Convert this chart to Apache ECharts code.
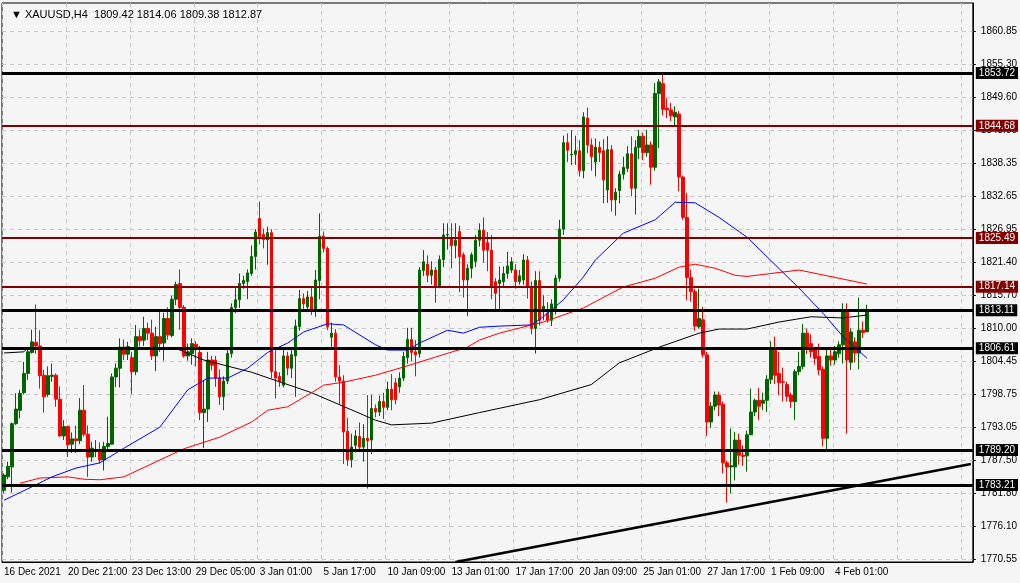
<!DOCTYPE html>
<html>
<head>
<meta charset="utf-8">
<script src="https://cdn.jsdelivr.net/npm/echarts@6/dist/echarts.min.js"></script>
<style>
  html, body { margin: 0; padding: 0; background: #f5f5f5; }
  #chart { width: 1020px; height: 583px; }
</style>
</head>
<body>
<div id="chart"></div>
<script>
var timeLabels = ['16 Dec 2021', '20 Dec 21:00', '23 Dec 13:00', '29 Dec 05:00', '3 Jan 01:00', '5 Jan 17:00',
  '10 Jan 09:00', '13 Jan 01:00', '17 Jan 17:00', '20 Jan 09:00', '25 Jan 01:00', '27 Jan 17:00', '1 Feb 09:00', '4 Feb 01:00'];
var priceTicks = [1770.55, 1776.10, 1781.80, 1787.50, 1793.05, 1798.75, 1804.45, 1810.00, 1815.70, 1821.40,
  1826.95, 1832.65, 1838.35, 1843.90, 1849.60, 1855.30, 1860.85];

// OHLC, one entry per H4 bar
var opens = [1782.3,1784.6,1786.3,1793.7,1796.0,1799.0,1802.3,1805.9,1807.6,1807.0,1802.0,1798.7,1801.8,1802.0,1797.9,1791.6,1793.2,1790.2,1791.1,1790.8,
  1796.0,1791.9,1788.0,1789.0,1789.2,1787.5,1789.8,1790.2,1801.7,1803.2,1806.8,1805.6,1805.0,1802.6,1808.6,1808.0,1810.0,1809.2,1805.3,1808.6,
  1807.5,1811.7,1808.8,1815.0,1817.7,1813.6,1805.3,1805.7,1807.3,1805.9,1795.6,1796.2,1804.6,1804.6,1801.5,1798.3,1801.0,1805.7,1813.6,1814.9,
  1817.7,1818.0,1819.4,1822.3,1828.8,1826.1,1825.2,1826.4,1802.6,1801.8,1800.3,1805.3,1803.2,1805.3,1810.3,1815.1,1813.7,1815.4,1812.9,1818.2,
  1825.8,1823.7,1808.5,1809.2,1801.7,1801.0,1792.4,1787.5,1790.0,1791.5,1789.7,1791.2,1790.9,1796.3,1795.7,1797.5,1796.5,1799.6,1800.7,1800.0,
  1801.5,1805.0,1808.1,1806.0,1805.7,1819.9,1821.0,1819.1,1820.0,1817.0,1821.8,1826.0,1825.5,1824.2,1826.6,1822.6,1818.3,1820.3,1821.5,1825.1,
  1826.8,1824.7,1823.4,1818.0,1817.7,1818.0,1819.4,1820.0,1820.0,1818.0,1818.3,1821.7,1817.2,1810.0,1818.2,1813.3,1812.6,1811.4,1813.4,1818.6,
  1827.0,1841.8,1839.7,1839.8,1840.4,1837.0,1846.0,1841.4,1838.5,1841.0,1840.4,1833.7,1840.6,1832.0,1833.6,1836.4,1837.4,1839.9,1834.0,1841.0,
  1842.9,1840.1,1841.4,1837.6,1850.2,1851.9,1847.7,1847.4,1846.2,1846.7,1835.9,1829.0,1818.7,1816.3,1810.3,1811.5,1805.5,1794.0,1796.7,1798.6,
  1797.0,1787.0,1786.3,1786.3,1790.9,1788.3,1788.2,1791.8,1795.7,1797.7,1797.2,1797.7,1801.3,1806.6,1802.3,1800.9,1800.4,1798.6,1797.5,1802.6,
  1803.5,1809.2,1807.4,1806.3,1805.2,1803.0,1791.2,1805.3,1804.6,1805.7,1807.2,1813.2,1804.2,1807.7,1805.8,1809.7,1809.42];
var closes = [1784.9,1786.4,1793.7,1796.2,1798.9,1802.3,1806.0,1807.7,1807.0,1801.9,1798.3,1801.9,1802.0,1797.9,1791.6,1793.2,1790.1,1791.1,1790.8,1796.0,
  1791.9,1788.0,1789.5,1789.2,1787.5,1789.8,1790.3,1801.7,1803.2,1806.8,1805.6,1806.9,1802.6,1808.6,1807.9,1810.0,1809.2,1805.3,1808.6,1807.4,
  1811.7,1808.9,1815.0,1817.5,1813.6,1805.3,1806.0,1807.4,1806.6,1795.6,1796.2,1804.6,1803.7,1801.5,1798.3,1801.0,1805.7,1813.6,1814.9,1817.7,
  1818.2,1819.5,1822.3,1826.5,1825.7,1825.2,1826.4,1802.6,1801.5,1800.9,1805.3,1803.2,1805.5,1810.4,1815.1,1814.2,1815.4,1812.9,1818.3,1825.8,
  1823.7,1810.3,1809.2,1801.7,1801.0,1792.3,1787.5,1789.7,1791.6,1789.7,1791.2,1790.8,1796.3,1795.7,1797.5,1796.5,1799.6,1797.8,1797.8,1801.5,
  1805.2,1808.1,1805.9,1805.5,1820.0,1821.4,1819.1,1820.0,1817.0,1821.8,1826.0,1826.1,1824.2,1825.1,1822.3,1818.3,1820.3,1822.6,1825.1,1826.8,
  1823.4,1823.4,1817.0,1816.0,1818.3,1819.4,1820.7,1821.4,1818.0,1819.0,1821.7,1817.1,1810.0,1818.2,1811.4,1813.8,1811.4,1814.2,1818.6,1827.0,
  1841.8,1840.5,1839.8,1840.4,1837.0,1846.2,1841.4,1839.4,1841.0,1840.1,1835.4,1840.6,1832.0,1833.3,1836.4,1837.6,1839.9,1834.0,1841.0,1842.9,
  1840.1,1841.4,1837.6,1850.2,1852.2,1847.5,1847.4,1846.4,1847.0,1835.9,1829.0,1818.7,1816.3,1810.4,1811.7,1805.5,1794.0,1796.7,1798.6,1796.9,
  1787.0,1786.3,1786.5,1790.9,1788.3,1788.1,1791.8,1795.7,1797.7,1796.7,1797.7,1801.3,1806.6,1802.0,1800.7,1800.8,1798.4,1797.5,1802.6,1803.5,
  1809.2,1806.6,1806.0,1804.9,1802.9,1791.2,1805.3,1804.6,1806.0,1807.2,1813.2,1804.6,1809.4,1805.8,1809.7,1809.3,1812.87];
var lows = [1781.8,1784.2,1781.9,1793.5,1794.6,1798.7,1801.2,1805.7,1805.7,1799.7,1795.6,1798.3,1800.9,1796.6,1791.5,1790.9,1788.0,1788.7,1788.7,1790.2,
  1791.5,1784.6,1787.2,1788.0,1786.9,1785.7,1789.2,1790.1,1800.0,1799.9,1804.6,1804.6,1798.8,1802.0,1806.9,1807.0,1808.0,1804.6,1802.7,1806.0,
  1804.5,1808.1,1808.5,1814.0,1809.8,1805.0,1804.5,1803.8,1803.5,1794.3,1789.5,1794.0,1802.8,1800.0,1796.9,1796.0,1800.5,1805.0,1812.6,1813.5,
  1816.8,1815.0,1819.0,1820.1,1824.4,1823.7,1820.9,1801.5,1798.0,1800.0,1799.9,1802.0,1801.5,1798.3,1809.6,1813.0,1812.8,1812.3,1812.0,1815.0,
  1823.0,1809.7,1806.8,1800.9,1797.0,1786.8,1786.5,1786.2,1788.8,1789.0,1787.2,1782.6,1788.5,1794.8,1795.0,1794.5,1796.0,1796.0,1797.0,1799.0,
  1801.0,1804.0,1804.4,1801.8,1805.0,1819.0,1817.9,1817.5,1814.4,1816.9,1820.5,1823.5,1820.3,1822.0,1816.2,1815.3,1812.1,1818.6,1820.5,1824.0,
  1821.3,1819.8,1815.0,1813.0,1812.9,1817.0,1818.5,1819.5,1816.8,1817.5,1817.5,1815.1,1809.0,1805.7,1810.5,1811.4,1811.0,1810.4,1812.4,1818.0,
  1826.0,1838.5,1838.0,1838.0,1836.0,1835.7,1840.0,1837.0,1836.0,1838.5,1831.4,1831.5,1830.0,1829.3,1831.4,1835.5,1836.8,1832.6,1829.5,1839.0,
  1838.8,1839.4,1834.6,1837.0,1840.9,1846.5,1846.0,1845.5,1844.5,1833.5,1828.6,1814.8,1814.6,1809.6,1810.0,1805.0,1791.6,1793.0,1796.0,1795.0,
  1785.2,1780.2,1781.8,1784.0,1786.7,1786.5,1785.5,1793.0,1795.0,1794.3,1796.0,1795.7,1800.5,1800.5,1798.6,1797.5,1797.5,1796.4,1794.3,1802.0,
  1803.0,1805.6,1805.0,1803.8,1802.0,1789.8,1789.2,1803.6,1803.8,1805.0,1804.0,1792.0,1802.9,1804.2,1803.0,1808.4,1809.38];
var highs = [1785.2,1787.2,1793.9,1798.9,1799.5,1804.3,1806.6,1809.8,1814.1,1809.7,1802.9,1803.5,1804.0,1802.3,1800.1,1794.3,1793.4,1792.2,1793.4,1798.1,
  1800.3,1793.4,1790.6,1790.9,1790.5,1790.6,1794.9,1802.3,1804.0,1808.3,1808.1,1807.7,1806.0,1810.6,1809.8,1812.0,1811.0,1811.5,1810.3,1813.3,
  1812.7,1813.6,1815.6,1818.0,1820.1,1814.0,1807.4,1808.3,1807.8,1807.0,1801.2,1806.0,1805.3,1805.3,1803.0,1801.8,1806.6,1814.3,1817.1,1819.4,
  1819.0,1820.1,1824.2,1827.0,1831.7,1827.1,1827.4,1827.0,1806.3,1802.5,1806.5,1806.0,1806.5,1811.5,1816.6,1816.0,1816.4,1817.0,1820.0,1829.7,
  1826.6,1824.0,1811.0,1809.9,1803.7,1802.0,1794.7,1792.0,1792.6,1793.9,1793.6,1798.6,1798.6,1797.0,1798.5,1799.0,1800.9,1802.2,1801.5,1802.5,
  1806.0,1810.1,1810.1,1808.0,1820.5,1823.4,1822.5,1821.5,1820.5,1822.5,1828.0,1828.0,1828.0,1828.0,1827.6,1823.0,1821.0,1823.0,1826.0,1828.0,
  1829.0,1826.5,1826.0,1818.6,1820.6,1820.6,1823.1,1822.2,1821.0,1820.0,1822.7,1822.4,1818.0,1819.8,1819.8,1815.7,1814.5,1815.0,1819.2,1828.6,
  1843.0,1843.4,1843.9,1843.0,1842.2,1847.0,1847.8,1842.5,1842.5,1842.0,1842.4,1842.9,1841.4,1834.0,1837.0,1839.4,1841.2,1842.9,1842.2,1844.0,
  1843.5,1844.0,1842.0,1852.0,1852.7,1853.7,1849.4,1848.6,1848.0,1847.2,1836.2,1833.2,1820.1,1816.8,1816.8,1813.7,1806.0,1797.4,1799.2,1799.2,
  1797.5,1787.4,1792.9,1792.3,1792.0,1790.0,1792.5,1799.7,1798.0,1799.8,1799.0,1802.0,1807.8,1808.6,1806.0,1803.3,1800.9,1799.0,1803.0,1806.0,
  1810.8,1810.0,1809.0,1806.8,1807.4,1803.5,1806.6,1806.3,1807.0,1807.8,1814.3,1814.3,1810.0,1808.5,1815.3,1811.2,1814.06];

// moving averages at [bar index, price]
var maBlue = [[0,1780.6],[7,1782.9],[12,1784.6],[18,1786.1],[24,1787],[30,1789.5],[39,1793.1],[46,1799.5],[51,1801.5],[56,1801.5],[61,1803.2],
  [66,1805.9],[71,1807.5],[75,1809.4],[81,1810.8],[85,1810.6],[93,1807.2],[96,1806.3],[101,1806.3],[104,1807.5],[111,1809.7],[115,1809.2],
  [119,1810.2],[124,1810.4],[132,1810.6],[135,1812],[140,1814.9],[145,1818.8],[148,1821.7],[155,1826.3],[163,1828.6],[168,1831.6],[173,1831.5],
  [179,1829],[186,1825.6],[199,1816.9],[205,1812.6],[210,1808.6],[216,1804.9]];
var maRed = [[4,1783.5],[9,1784.4],[16,1784.6],[20,1784.2],[24,1784.1],[30,1784.6],[45,1789.4],[54,1791.4],[62,1794],[66,1796],[71,1796.6],
  [77,1799],[80,1800.3],[85,1800.8],[93,1802],[100,1803.4],[108,1805.1],[116,1806.8],[119,1808],[124,1809.2],[135,1811.1],[145,1813.5],
  [155,1817.1],[163,1818.6],[169,1820.5],[173,1821],[178,1820.3],[183,1819.1],[186,1818.9],[199,1820],[216,1817.6]];
var maBlack = [[0,1805.8],[5,1806.0],[6,1806.7],[43,1806.6],[50,1804.6],[62,1802.5],[77,1799],[93,1794.3],[97,1793.5],[107,1793.8],
  [119,1795.6],[134,1797.8],[147,1800.4],[154,1804.1],[164,1806.8],[174,1809.2],[179,1809.9],[186,1809.9],[194,1811.1],[202,1812],
  [210,1811.8],[216,1812.3]];

var levelsBlack = [1853.72, 1813.11, 1806.61, 1789.20, 1783.21];
var levelsRed = [1844.68, 1825.49, 1817.14];
var trendLine = [[113, 1770.03], [242, 1786.8]];

var barCount = 243;
var categories = [];
for (var i = 0; i < barCount; i++) categories.push(i);

var candles = opens.map(function (o, k) { return [o, closes[k], lows[k], highs[k]]; });

function level(v, col, w) {
  return {
    yAxis: v,
    lineStyle: { color: col, width: w, type: 'solid' },
    label: { backgroundColor: col, color: '#fff' }
  };
}
var levelData = levelsBlack.map(function (v) { return level(v, '#000000', 3); })
  .concat(levelsRed.map(function (v) { return level(v, '#800000', 2); }));

var FONT = 'Liberation Sans';

var chart = echarts.init(document.getElementById('chart'));
chart.setOption({
  backgroundColor: '#f5f5f5',
  animation: false,
  title: {
    text: '▼ XAUUSD,H4  1809.42 1814.06 1809.38 1812.87',
    left: 6, top: 4,
    textStyle: { fontSize: 11, fontWeight: 'normal', color: '#000', fontFamily: FONT }
  },
  grid: { left: 2, right: 45, top: 3, bottom: 21, show: true, borderColor: '#000', borderWidth: 1, backgroundColor: '#f5f5f5' },
  xAxis: {
    type: 'category',
    data: categories,
    boundaryGap: true,
    axisLine: { lineStyle: { color: '#000' } },
    axisTick: { interval: 15, alignWithLabel: true, length: 3, lineStyle: { color: '#000' } },
    axisLabel: {
      interval: 15, align: 'left', margin: 5, color: '#000', fontSize: 10, fontFamily: FONT,
      showMinLabel: true, hideOverlap: false,
      formatter: function (v, idx) { return timeLabels[idx / 16] || ''; }
    },
    splitLine: { show: true, interval: 15, lineStyle: { color: '#c8c8c8', type: [4, 4] } }
  },
  yAxis: {
    type: 'value',
    position: 'right',
    min: 1770.03,
    max: 1865.7,
    scale: true,
    axisLine: { show: true, lineStyle: { color: '#000' } },
    axisTick: { show: true, length: 3, customValues: priceTicks, lineStyle: { color: '#000' } },
    axisLabel: {
      customValues: priceTicks, color: '#000', fontSize: 10, margin: 8, fontFamily: FONT,
      formatter: function (v) { return v.toFixed(2); }
    },
    splitLine: { show: true, lineStyle: { color: '#c8c8c8', type: [4, 4] } }
  },
  series: [
    {
      type: 'line', data: maBlack, symbol: 'none', silent: true,
      lineStyle: { color: '#000', width: 1 }
    },
    {
      type: 'line', data: maRed, symbol: 'none', silent: true,
      lineStyle: { color: '#ff0000', width: 1 }
    },
    {
      type: 'line', data: maBlue, symbol: 'none', silent: true,
      lineStyle: { color: '#0000ff', width: 1 }
    },
    {
      type: 'candlestick',
      data: candles,
      barWidth: 3,
      itemStyle: {
        color: '#006400', borderColor: '#006400',
        color0: '#ff0000', borderColor0: '#ff0000', borderWidth: 1
      },
      markLine: {
        silent: true, symbol: 'none', animation: false,
        label: {
          position: 'end', distance: 3, fontSize: 10, fontFamily: FONT, padding: [1, 3],
          formatter: function (p) { return p.value.toFixed(2); }
        },
        data: levelData.concat([[
          { coord: trendLine[0], lineStyle: { color: '#000', width: 2.5, type: 'solid' }, label: { show: false } },
          { coord: trendLine[1] }
        ]])
      }
    }
  ]
});
</script>
</body>
</html>
